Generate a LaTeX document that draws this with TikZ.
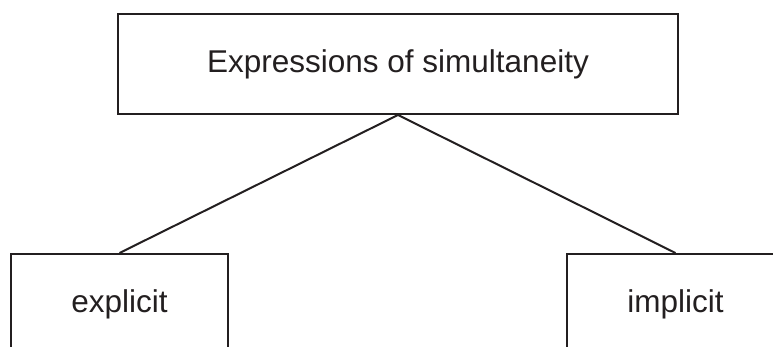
\documentclass[tikz,border=0pt]{standalone}
\usepackage{fontspec}
\setmainfont{Liberation Sans}
\usetikzlibrary{positioning}
\definecolor{ink}{HTML}{231F20}
\tikzstyle{block} = [rectangle, draw=ink, text=ink, line width=2pt,
    minimum height=100pt, inner sep=0pt, font=\fontsize{31.5}{38}\selectfont]

\begin{document}
\begin{tikzpicture}[x=1pt, y=1pt, node distance = 138pt]
  \clip (0,0) rectangle (773,-347);

  \node [block, minimum width=560pt] (expr) at (398,-64) {Expressions of simultaneity};

  \node [block, minimum width=217pt, below= of expr, xshift=-278.5pt] (explicit) {explicit};
  \node [block, minimum width=217pt, below= of expr, xshift=277.5pt] (implicit) {implicit};

  \draw [ink, line width=2pt] (expr.south) to (explicit.north);
  \draw [ink, line width=2pt] (expr.south) to (implicit.north);
\end{tikzpicture}
\end{document}
